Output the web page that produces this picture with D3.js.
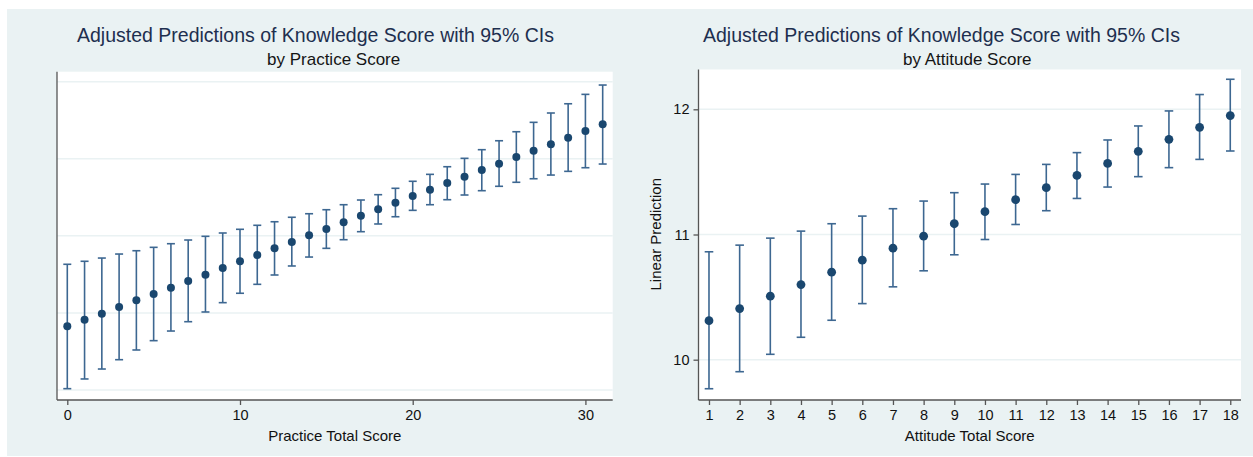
<!DOCTYPE html>
<html>
<head>
<meta charset="utf-8">
<script src="https://cdn.jsdelivr.net/npm/d3@7/dist/d3.min.js"></script>
<style>
  body { margin: 0; background: #fff; }
  svg { display: block; font-family: "Liberation Sans", Arial, Helvetica, sans-serif; }
  .grid line { stroke: #eaf2f3; stroke-width: 1.5; }
  .axis path, .axis line { stroke: #555; stroke-width: 1.3; }
  .axis text { fill: #111; font-size: 14.5px; }
  .ci { stroke: #3d6791; stroke-width: 1.6; fill: none; }
  .dot { fill: #1a476f; }
</style>
</head>
<body>
<svg id="chart" width="1253" height="457"></svg>
<script>
// practice panel (left)
var practiceScore = d3.range(0, 32);
var practiceMean = [9.826, 9.912, 9.990, 10.077, 10.164, 10.245, 10.327, 10.414, 10.496, 10.583,
  10.670, 10.751, 10.838, 10.920, 11.007, 11.089, 11.176, 11.261, 11.344, 11.430,
  11.517, 11.599, 11.686, 11.767, 11.854, 11.936, 12.023, 12.105, 12.188, 12.273,
  12.360, 12.447];
var practiceHi = [10.631, 10.670, 10.712, 10.764, 10.807, 10.851, 10.898, 10.946, 10.994, 11.037,
  11.085, 11.137, 11.183, 11.241, 11.287, 11.339, 11.404, 11.465, 11.534, 11.617,
  11.708, 11.798, 11.897, 12.006, 12.118, 12.234, 12.351, 12.473, 12.594, 12.714,
  12.836, 12.957];
var practiceLo = [9.017, 9.143, 9.272, 9.393, 9.519, 9.640, 9.765, 9.886, 10.012, 10.133,
  10.255, 10.371, 10.492, 10.609, 10.725, 10.838, 10.950, 11.054, 11.154, 11.248,
  11.331, 11.404, 11.469, 11.530, 11.586, 11.643, 11.695, 11.741, 11.789, 11.837,
  11.884, 11.932];
var practiceXTicks = [0, 10, 20, 30];
var practiceYTicks = [9, 10, 11, 12, 13];

// attitude panel (right)
var attitudeScore = d3.range(1, 19);
var attitudeMean = [10.312, 10.408, 10.507, 10.600, 10.699, 10.795, 10.891, 10.987, 11.086,
  11.182, 11.278, 11.374, 11.472, 11.568, 11.664, 11.760, 11.856, 11.950];
var attitudeHi = [10.862, 10.915, 10.971, 11.027, 11.086, 11.147, 11.206, 11.267, 11.334,
  11.403, 11.480, 11.560, 11.654, 11.755, 11.867, 11.987, 12.118, 12.240];
var attitudeLo = [9.768, 9.904, 10.043, 10.179, 10.315, 10.448, 10.582, 10.710, 10.838,
  10.960, 11.080, 11.190, 11.288, 11.379, 11.462, 11.534, 11.600, 11.667];
var attitudeXTicks = d3.range(1, 19);
var attitudeYTicks = [10, 11, 12];

var svg = d3.select("#chart");

// graph region background
svg.append("rect")
  .attr("x", 7).attr("y", 9)
  .attr("width", 1246).attr("height", 447)
  .attr("fill", "#eaf2f3");

function drawPanel(p) {
  var x = d3.scaleLinear().domain(p.xDomain).range([p.left, p.right]);
  var y = d3.scaleLinear().domain(p.yDomain).range([p.bottom, p.top]);
  var g = svg.append("g");

  g.append("rect")
    .attr("x", p.left).attr("y", p.top)
    .attr("width", p.right - p.left).attr("height", p.bottom - p.top)
    .attr("fill", "#fff");

  g.append("g").attr("class", "grid")
    .selectAll("line").data(p.yTicks).enter().append("line")
    .attr("x1", p.left).attr("x2", p.right)
    .attr("y1", d => y(d)).attr("y2", d => y(d));

  // confidence intervals
  var ci = g.append("g");
  p.xs.forEach(function (v, i) {
    var cx = x(v);
    ci.append("line").attr("class", "ci")
      .attr("x1", cx).attr("x2", cx)
      .attr("y1", y(p.lo[i])).attr("y2", y(p.hi[i]));
    [p.lo[i], p.hi[i]].forEach(function (e) {
      ci.append("line").attr("class", "ci")
        .attr("x1", cx - p.cap).attr("x2", cx + p.cap)
        .attr("y1", y(e)).attr("y2", y(e));
    });
  });

  g.append("g").selectAll("circle")
    .data(p.xs).enter().append("circle")
    .attr("class", "dot")
    .attr("cx", d => x(d))
    .attr("cy", (d, i) => y(p.mean[i]))
    .attr("r", p.r);

  var xa = g.append("g").attr("class", "axis")
    .attr("transform", "translate(0," + p.bottom + ")")
    .call(d3.axisBottom(x).tickValues(p.xTicks).tickFormat(d3.format("d"))
      .tickSize(5).tickPadding(5).tickSizeOuter(0));
  xa.select(".domain").attr("d", "M" + p.left + ",0H" + p.right);

  var ya = g.append("g").attr("class", "axis")
    .attr("transform", "translate(" + p.left + ",0)")
    .call(d3.axisLeft(y).tickValues(p.showYLabels ? p.yTicks : []).tickFormat(d3.format("d"))
      .tickSize(5).tickPadding(4).tickSizeOuter(0));
  ya.select(".domain").attr("d", "M0," + p.top + "V" + p.bottom);

  svg.append("text")
    .attr("x", p.titleX).attr("y", 42)
    .attr("font-size", "19.5px").attr("fill", "#1e2f4f")
    .text("Adjusted Predictions of Knowledge Score with 95% CIs");

  svg.append("text")
    .attr("x", p.subX).attr("y", 65)
    .attr("font-size", "17px").attr("fill", "#151515")
    .text(p.subtitle);

  svg.append("text")
    .attr("x", (p.left + p.right) / 2).attr("y", 441)
    .attr("text-anchor", "middle")
    .attr("font-size", "15px").attr("fill", "#111")
    .text(p.xTitle);

  if (p.yTitle) {
    svg.append("text")
      .attr("transform", "translate(661," + ((p.top + p.bottom) / 2 - 0.5) + ") rotate(-90)")
      .attr("text-anchor", "middle")
      .attr("font-size", "15px").attr("fill", "#111")
      .text(p.yTitle);
  }
}

drawPanel({
  left: 57, right: 612.7, top: 71.7, bottom: 400,
  xDomain: [-0.596, 31.58], yDomain: [8.870, 13.130],
  xs: practiceScore, mean: practiceMean, lo: practiceLo, hi: practiceHi,
  xTicks: practiceXTicks, yTicks: practiceYTicks, showYLabels: false,
  cap: 4, r: 4,
  titleX: 77, subX: 267, subtitle: "by Practice Score",
  xTitle: "Practice Total Score"
});

drawPanel({
  left: 698.5, right: 1241, top: 69.5, bottom: 400,
  xDomain: [0.658, 18.35], yDomain: [9.678, 12.318],
  xs: attitudeScore, mean: attitudeMean, lo: attitudeLo, hi: attitudeHi,
  xTicks: attitudeXTicks, yTicks: attitudeYTicks, showYLabels: true,
  cap: 4.3, r: 4.4,
  titleX: 703, subX: 903, subtitle: "by Attitude Score",
  xTitle: "Attitude Total Score",
  yTitle: "Linear Prediction"
});
</script>
</body>
</html>
